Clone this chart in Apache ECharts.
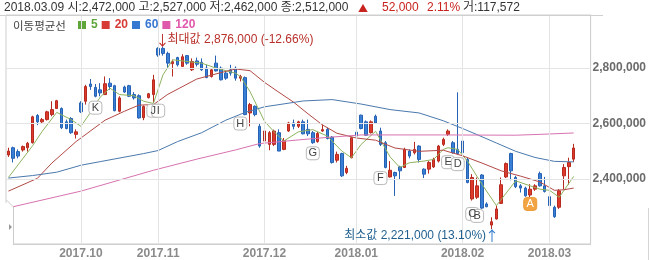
<!DOCTYPE html>
<html><head><meta charset="utf-8">
<script src="https://cdn.jsdelivr.net/npm/echarts@6/dist/echarts.min.js"></script>
<style>html,body{margin:0;padding:0;background:#fff}#c{width:649px;height:260px}</style>
</head><body><div id="c"></div>
<script>
// ---------- DATA (prices in thousand won) ----------
const dates = [
'2017.09.11','2017.09.12','2017.09.13','2017.09.14','2017.09.15','2017.09.18','2017.09.19','2017.09.20','2017.09.21','2017.09.22','2017.09.25','2017.09.26','2017.09.27','2017.09.28','2017.09.29',
'2017.10.10','2017.10.11','2017.10.12','2017.10.13','2017.10.16','2017.10.17','2017.10.18','2017.10.19','2017.10.20','2017.10.23','2017.10.24','2017.10.25','2017.10.26','2017.10.27','2017.10.30','2017.10.31',
'2017.11.01','2017.11.02','2017.11.03','2017.11.06','2017.11.07','2017.11.08','2017.11.09','2017.11.10','2017.11.13','2017.11.14','2017.11.15','2017.11.16','2017.11.17','2017.11.20','2017.11.21','2017.11.22','2017.11.23','2017.11.24','2017.11.27','2017.11.28','2017.11.29','2017.11.30',
'2017.12.01','2017.12.04','2017.12.05','2017.12.06','2017.12.07','2017.12.08','2017.12.11','2017.12.12','2017.12.13','2017.12.14','2017.12.15','2017.12.18','2017.12.19','2017.12.20','2017.12.21','2017.12.22','2017.12.26','2017.12.27','2017.12.28',
'2018.01.02','2018.01.03','2018.01.04','2018.01.05','2018.01.08','2018.01.09','2018.01.10','2018.01.11','2018.01.12','2018.01.15','2018.01.16','2018.01.17','2018.01.18','2018.01.19','2018.01.22','2018.01.23','2018.01.24','2018.01.25','2018.01.26','2018.01.29','2018.01.30','2018.01.31',
'2018.02.01','2018.02.02','2018.02.05','2018.02.06','2018.02.07','2018.02.08','2018.02.09','2018.02.12','2018.02.13','2018.02.14','2018.02.19','2018.02.20','2018.02.21','2018.02.22','2018.02.23','2018.02.26','2018.02.27','2018.02.28',
'2018.03.02','2018.03.05','2018.03.06','2018.03.07','2018.03.08','2018.03.09'];

const opens = [2487,2513,2499,2505,2513,2531,2629,2606,2614,2632,
2654,2654,2606,2618,2561,2674,2680,2742,2730,2721,
2704,2745,2736,2644,2731,2736,2704,2700,2621,2693,
2704,2870,2870,2852,2815,2837,2805,2844,2793,2825,
2820,2799,2769,2817,2799,2781,2793,2799,2763,2765,
2638,2662,2590,2537,2525,2525,2567,2507,2573,2602,
2590,2606,2579,2567,2535,2573,2579,2551,2468,2492,
2424,2477,2569,2630,2606,2567,2626,2573,2531,2408,
2424,2444,2442,2501,2495,2519,2436,2436,2444,2465,
2525,2561,2531,2507,2537,2471,2329,2335,2415,2311,
2235,2257,2313,2408,2492,2406,2376,2368,2343,2364,
2420,2376,2337,2299,2299,2412,2445,2472];
const closes = [2501,2475,2483,2517,2529,2624,2606,2614,2642,2650,
2682,2585,2582,2567,2570,2642,2733,2733,2698,2710,
2743,2733,2646,2692,2713,2698,2692,2620,2661,2707,
2757,2846,2852,2817,2822,2811,2840,2817,2823,2813,
2793,2765,2793,2789,2757,2763,2781,2763,2769,2632,
2668,2632,2519,2573,2567,2573,2501,2539,2602,2590,
2606,2563,2563,2531,2564,2578,2546,2460,2489,2412,
2439,2549,2555,2582,2558,2606,2602,2525,2442,2432,
2412,2430,2507,2483,2507,2471,2418,2460,2471,2519,
2543,2573,2495,2492,2495,2388,2406,2376,2296,2301,
2247,2293,2380,2456,2430,2373,2368,2340,2364,2376,
2376,2356,2305,2265,2358,2442,2460,2512];
const lows = [2480,2460,2475,2499,2499,2528,2594,2599,2611,2626,
2652,2580,2579,2563,2546,2638,2668,2721,2694,2698,
2704,2721,2644,2640,2710,2695,2686,2618,2612,2690,
2675,2840,2844,2799,2769,2805,2805,2811,2789,2805,
2789,2763,2765,2787,2755,2757,2772,2754,2751,2630,
2590,2626,2513,2530,2504,2519,2501,2504,2570,2579,
2584,2561,2555,2527,2531,2570,2543,2456,2460,2408,
2418,2475,2543,2579,2555,2564,2599,2519,2439,2406,
2340,2400,2440,2475,2489,2460,2404,2420,2440,2460,
2519,2555,2492,2489,2489,2385,2323,2329,2293,2299,
2221,2255,2311,2404,2396,2368,2352,2337,2335,2358,
2373,2352,2301,2261,2293,2364,2380,2462];
const highs = [2513,2517,2507,2521,2534,2628,2634,2620,2646,2680,
2685,2658,2614,2623,2579,2680,2739,2760,2742,2745,
2769,2763,2739,2698,2736,2739,2713,2705,2665,2710,
2775,2874,2876,2858,2830,2840,2849,2846,2834,2837,
2834,2811,2799,2844,2805,2789,2811,2805,2775,2769,
2674,2665,2602,2590,2573,2578,2579,2548,2606,2614,
2610,2614,2614,2573,2570,2596,2585,2555,2499,2495,
2448,2551,2573,2632,2611,2611,2632,2585,2537,2465,
2427,2448,2513,2507,2534,2522,2439,2465,2477,2523,
2549,2579,2537,2712,2546,2477,2418,2406,2418,2317,
2263,2305,2406,2460,2495,2412,2382,2373,2382,2382,
2427,2408,2344,2305,2364,2454,2477,2527];

// moving averages: [candle index, value]
const ma5 = [[0,2406],[5,2520],[7,2572],[10,2640],[13,2614],[15,2590],[17,2640],[19,2695],[21,2727],[23,2704],[26,2700],[28,2680],[30,2672],[32,2775],[34,2829],[40,2817],[43,2799],[47,2781],[48,2769],[50,2715],[53,2608],[55,2570],[57,2537],[60,2570],[63,2578],[66,2555],[69,2501],[71,2477],[73,2525],[76,2572],[79,2480],[81,2442],[83,2459],[86,2465],[88,2471],[90,2507],[91,2513],[93,2507],[95,2465],[98,2382],[101,2305],[105,2394],[110,2364],[112,2360],[114,2335],[117,2410]];
const ma20 = [[0,2357],[6,2403],[9,2458],[14,2535],[20,2612],[24,2644],[27,2666],[30,2668],[33,2705],[39,2760],[44,2783],[47,2796],[50,2790],[53,2748],[56,2712],[59,2677],[62,2635],[65,2595],[68,2565],[72,2548],[76,2540],[80,2512],[85,2500],[90,2504],[94,2484],[98,2458],[102,2430],[106,2411],[110,2390],[113,2360],[115,2362],[117,2368]];
const ma60 = [[0,2404],[5,2413],[10,2425],[15,2450],[19,2463],[28,2492],[31,2503],[35,2535],[40,2567],[45,2612],[49,2640],[53,2660],[61,2681],[67,2686],[73,2670],[79,2650],[85,2638],[90,2610],[94,2582],[97,2560],[101,2530],[105,2500],[109,2478],[113,2464],[117,2462]];
const ma120 = [[0,2297],[15,2357],[30,2432],[39,2472],[47,2505],[52,2528],[60,2541],[66,2550],[73,2559],[90,2559],[105,2558],[110,2561],[117,2566]];

const maNames = ['5','20','60','120'];
const yTicks = [2400000, 2600000, 2800000];

const noteLetters = ['K','J','I','H','G','F','E','D','C','B','A'];
const noteIdx = [18,30,31,48,63,77,91,93,96,97,108];
const notePrice = [2657,2646,2646,2600,2493,2404,2461,2454,2275,2268,2311];

const headerMain = '2018.03.09 시:2,472,000 고:2,527,000 저:2,462,000 종:2,512,000';
const headerChange = ['▲', '52,000', '2.11%'];
const headerVolume = '거:117,572';
const legendTitle = '이동평균선';

// ---------- BUILD ----------
const K = 1000;
const fmt = v => Math.round(v).toLocaleString('en-US');
const candles = dates.map((d, i) => [opens[i]*K, closes[i]*K, lows[i]*K, highs[i]*K]);
const monthStarts = dates.map((d, i) => i).filter(i => i > 0 && dates[i].slice(0,7) !== dates[i-1].slice(0,7));
let maxI = 0, minI = 0;
highs.forEach((h, i) => { if (h > highs[maxI]) maxI = i; });
lows.forEach((l, i) => { if (l < lows[minI]) minI = i; });
const lastClose = closes[closes.length-1];
const maxPct = ((lastClose / highs[maxI] - 1) * 100).toFixed(2);
const minPct = ((lastClose / lows[minI] - 1) * 100).toFixed(2);

const FK = '"Liberation Sans", "Noto Sans CJK KR", sans-serif';
const FC = '"Noto Sans CJK KR", sans-serif';
const maLegendColors = ['#5ea63a', '#d63b36', '#3677d2', '#e058ac'];
const maLineColors = ['#8db35e', '#b24a46', '#4b79ad', '#d872b0'];
const maData = [ma5, ma20, ma60, ma120];

const notePoints = noteLetters.map((t, k) => ({
  name: t,
  coord: [dates[noteIdx[k]], notePrice[k]*K],
  symbol: 'roundRect', symbolSize: [13, 13],
  itemStyle: t === 'A' ? {color: '#f2a443', borderColor: '#eb9a35', borderWidth: 1}
                       : {color: '#ffffff', borderColor: '#b9b9b9', borderWidth: 1},
  label: {show: true, formatter: t, color: t === 'A' ? '#ffffff' : '#444', fontSize: 11, fontFamily: FK}
}));
notePoints.push({
  name: 'max', coord: [dates[maxI], highs[maxI]*K], symbol: 'rect', symbolSize: 1,
  itemStyle: {color: 'rgba(0,0,0,0)'},
  label: {show: true, position: [-7, -7], align: 'left', verticalAlign: 'middle',
    formatter: '{a|↓}{t|최대값 ' + fmt(highs[maxI]*K) + ' (' + maxPct + '%)}',
    rich: {a: {fontFamily: FC, fontSize: 14, color: '#c0302a', width: 12},
           t: {fontFamily: FK, fontSize: 12, color: '#b8312b'}}}
});
notePoints.push({
  name: 'min', coord: [dates[minI], lows[minI]*K], symbol: 'rect', symbolSize: 1,
  itemStyle: {color: 'rgba(0,0,0,0)'},
  label: {show: true, position: [7, 7], align: 'right', verticalAlign: 'middle',
    formatter: '{t|최소값 ' + fmt(lows[minI]*K) + ' (' + minPct + '%)}{a|↑}',
    rich: {a: {fontFamily: FC, fontSize: 14, color: '#2f78c8', width: 12, align: 'center'},
           t: {fontFamily: FK, fontSize: 12, color: '#1f5f8f'}}}
});

const graphics = [];
graphics.push({type: 'text', x: 4, y: 8, z: 100, style: {text: headerMain, fill: '#333', font: '12px ' + FK, verticalAlign: 'middle'}});
const changeX = [358, 382, 427];
headerChange.forEach((t, k) => graphics.push({type: 'text', x: changeX[k], y: 8, z: 100,
  style: {text: t, fill: '#c8231e', font: (k === 0 ? '10px ' + FC : '12px ' + FK), verticalAlign: 'middle'}}));
graphics.push({type: 'text', x: 463, y: 8, z: 100, style: {text: headerVolume, fill: '#333', font: '12px ' + FK, verticalAlign: 'middle'}});
graphics.push({type: 'line', z: 100, shape: {x1: 0, y1: 15.5, x2: 603, y2: 15.5}, style: {stroke: '#cfcfcf', lineWidth: 1}});
graphics.push({type: 'text', x: 13, y: 26, z: 100, style: {text: legendTitle, fill: '#444', font: '11.5px ' + FC, verticalAlign: 'middle'}});
graphics.push({type: 'rect', z: 100, shape: {x: 0, y: 203, width: 13, height: 42}, style: {fill: '#fff'}});
graphics.push({type: 'polyline', z: 101, shape: {points: [[6.5, 200], [13.5, 207], [13.5, 245]]}, style: {stroke: '#cccccc', lineWidth: 1, fill: null}});
graphics.push({type: 'polygon', z: 101, shape: {points: [[9, 224], [9, 230], [12, 227]]}, style: {fill: '#999'}});
graphics.push({type: 'line', z: 100, shape: {x1: 648.5, y1: 208, x2: 648.5, y2: 260}, style: {stroke: '#d5d5d5', lineWidth: 1}});

const chart = echarts.init(document.getElementById('c'), null, {renderer: 'canvas'});
chart.setOption({
  animation: false,
  backgroundColor: '#ffffff',
  grid: {left: 6, right: 58, top: 15, bottom: 15, show: true, borderColor: '#cfcfcf', borderWidth: 1, backgroundColor: 'transparent'},
  legend: {
    left: 78, top: 19, padding: 0, itemGap: 4, itemWidth: 8, itemHeight: 8, icon: 'rect', selectedMode: false,
    data: maNames.map((n, k) => ({name: n, itemStyle: {color: maLegendColors[k]},
      textStyle: {color: maLegendColors[k], fontWeight: 'bold', fontSize: 12, fontFamily: FK}}))
  },
  xAxis: {
    type: 'category', data: dates, max: dates.length + 2, boundaryGap: true,
    axisLine: {show: true, lineStyle: {color: '#cfcfcf'}},
    axisTick: {show: false}, splitLine: {show: false},
    axisLabel: {interval: (i) => monthStarts.includes(i), formatter: v => v ? v.slice(0, 7) : '',
      color: '#8a8a8a', fontWeight: 'bold', fontSize: 12, fontFamily: FK, margin: 4}
  },
  yAxis: {
    type: 'value', position: 'right', min: 2167000, max: 2990000, scale: true,
    axisLine: {show: true, lineStyle: {color: '#cfcfcf'}},
    axisTick: {show: false}, splitLine: {show: false},
    axisLabel: {customValues: yTicks, formatter: v => fmt(v), color: '#6b6b6b', fontWeight: 'bold', fontSize: 12, fontFamily: FK, margin: 2}
  },
  graphic: graphics,
  series: [
    {
      type: 'line', name: 'grid', data: [], z: 0, silent: true,
      markLine: {silent: true, symbol: ['none', 'none'], label: {show: false},
        lineStyle: {color: '#e4e4e4', type: 'solid', width: 1},
        data: monthStarts.map(i => ({xAxis: dates[i]})).concat(yTicks.map(v => ({yAxis: v})))}
    },
    {
      type: 'candlestick', name: 'price', data: candles, z: 2, barWidth: 3,
      itemStyle: {color: '#de3a2c', color0: '#3a7fd6', borderColor: '#b62a1f', borderColor0: '#2662b3', borderWidth: 1},
      markPoint: {silent: true, data: notePoints}
    }
  ].concat(maNames.map((n, k) => ({
    type: 'line', name: n, z: 3, data: maData[k].map(p => [p[0], p[1]*K]),
    showSymbol: false, symbol: 'none', smooth: false, color: maLegendColors[k],
    lineStyle: {color: maLineColors[k], width: 1}
  })))
});
</script></body></html>
